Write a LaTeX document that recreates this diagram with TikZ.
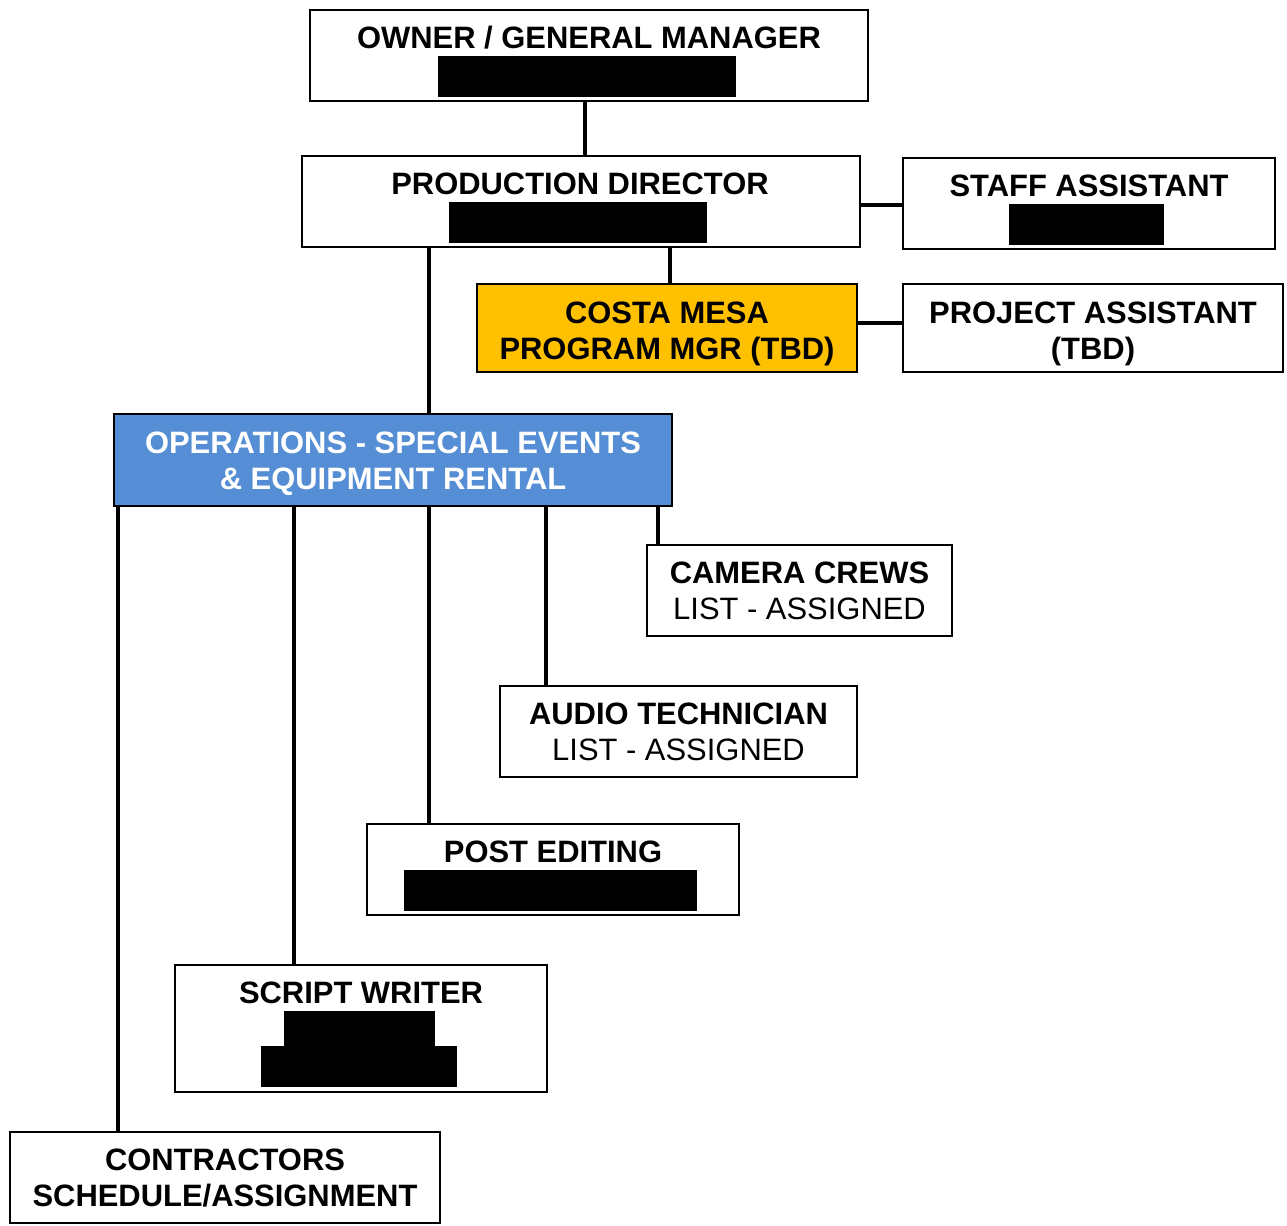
\documentclass[tikz,border=0pt]{standalone}
\usepackage{fontspec}
\setmainfont{Liberation Sans}
\usepackage{tikz}
\definecolor{mgrorange}{HTML}{FFC000}
\definecolor{opsblue}{HTML}{558ED5}
\tikzset{
	box/.style={draw, line width=1.1pt, inner sep=0pt},
	lbl/.style={font=\fontsize{17.6}{20.5}\selectfont\bfseries, align=center, inner sep=0pt},
	link/.style={line width=2.7pt},
}

\begin{document}
\begin{tikzpicture}[x=0.02cm, y=-0.02cm]
\useasboundingbox (0,0) rectangle (1287,1225);

% boxes
\node[box, minimum width=11.16cm, minimum height=1.82cm] (owner) at (589,55.5) {};
\node[box, minimum width=11.16cm, minimum height=1.82cm] (prod) at (581,201.5) {};
\node[box, minimum width=7.44cm, minimum height=1.82cm] (staff) at (1089,203.5) {};
\node[box, fill=mgrorange, minimum width=7.6cm, minimum height=1.76cm] (costa) at (667,328) {};
\node[box, minimum width=7.6cm, minimum height=1.76cm] (project) at (1093,328) {};
\node[box, fill=opsblue, minimum width=11.16cm, minimum height=1.84cm] (ops) at (393,460) {};
\node[box, minimum width=6.1cm, minimum height=1.82cm, lbl] (camera) at (799.5,590.5) {CAMERA CREWS\\\mdseries LIST - ASSIGNED};
\node[box, minimum width=7.14cm, minimum height=1.82cm, lbl] (audio) at (678.5,731.5) {AUDIO TECHNICIAN\\\mdseries LIST - ASSIGNED};
\node[box, minimum width=7.44cm, minimum height=1.82cm] (post) at (553,869.5) {};
\node[box, minimum width=7.44cm, minimum height=2.54cm] (script) at (361,1028.5) {};
\node[box, minimum width=8.6cm, minimum height=1.82cm, lbl] (contr) at (225,1177.5) {CONTRACTORS\\SCHEDULE/ASSIGNMENT};

% texts
\node[lbl] (ownert) at (589,38) {OWNER / GENERAL MANAGER};
\node[lbl] (prodt) at (580,184) {PRODUCTION DIRECTOR};
\node[lbl] (stafft) at (1089,186) {STAFF ASSISTANT};
\node[lbl] (costat) at (667,334) {COSTA MESA\\PROGRAM MGR (TBD)};
\node[lbl] (projectt) at (1093,334) {PROJECT ASSISTANT\\(TBD)};
\node[lbl, text=white] (opst) at (393,464) {OPERATIONS - SPECIAL EVENTS\\\& EQUIPMENT RENTAL};
\node[lbl] (postt) at (553,852) {POST EDITING};
\node[lbl] (scriptt) at (361,993) {SCRIPT WRITER};

% blacked out names
\fill (438,56) rectangle (736,97);
\fill (449,202) rectangle (707,243);
\fill (1009,204) rectangle (1164,245);
\fill (404,870) rectangle (697,911);
\fill (284,1011) rectangle (435,1048);
\fill (261,1046) rectangle (457,1087);

% lines
\draw[link] (585,0 |- owner.south) -- (585,0 |- prod.north);
\draw[link] (prod.east |- 0,205) -- (staff.west |- 0,205);
\draw[link] (670,0 |- prod.south) -- (670,0 |- costa.north);
\draw[link] (costa.east |- 0,323) -- (project.west |- 0,323);
\draw[link] (429,0 |- prod.south) -- (429,0 |- ops.north);
\draw[link] (118,0 |- ops.south) -- (118,0 |- contr.north);
\draw[link] (294,0 |- ops.south) -- (294,0 |- script.north);
\draw[link] (429,0 |- ops.south) -- (429,0 |- post.north);
\draw[link] (546,0 |- ops.south) -- (546,0 |- audio.north);
\draw[link] (658,0 |- ops.south) -- (658,0 |- camera.north);
\end{tikzpicture}
\end{document}
